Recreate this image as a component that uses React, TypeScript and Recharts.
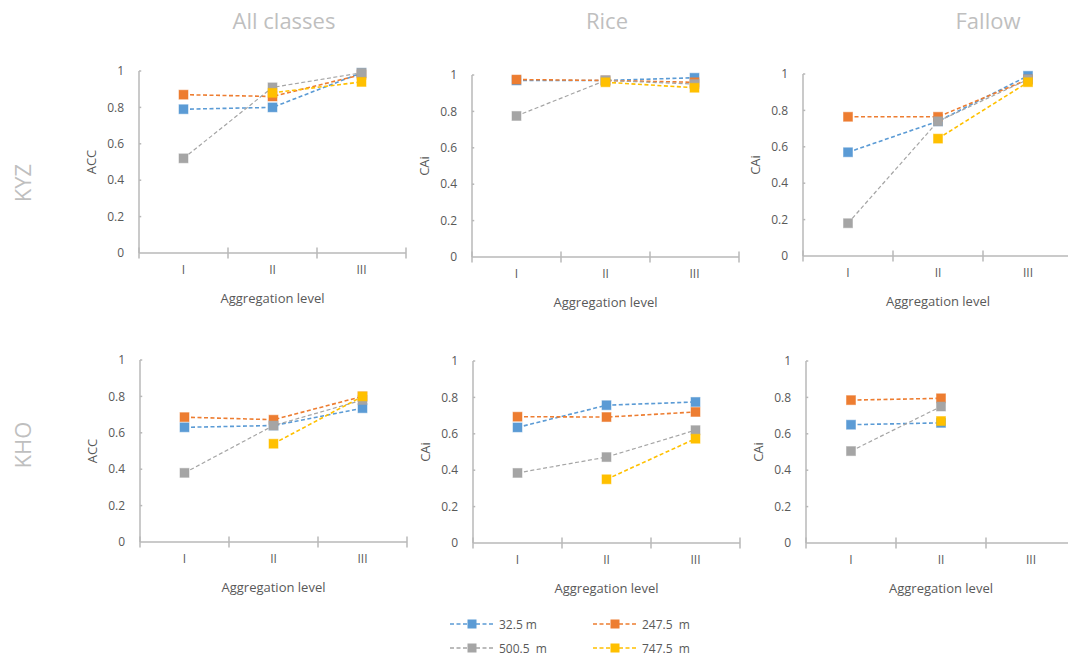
import React from "react";
import { LineChart, Line, XAxis, YAxis, ReferenceLine } from "recharts";

const levels = ["I", "II", "III"];
const seriesNames = ["32.5 m", "247.5  m", "500.5  m", "747.5  m"];
const seriesColors = ["#5B9BD5", "#ED7D31", "#A5A5A5", "#FFC000"];
const yTicks = [0, 0.2, 0.4, 0.6, 0.8, 1];

// rows: 32.5 m, 247.5 m, 500.5 m, 747.5 m ; columns: level I, II, III
const kyzAll = [
  [0.79, 0.8, 0.99],
  [0.87, 0.86, 0.98],
  [0.52, 0.91, 0.99],
  [null, 0.88, 0.94],
];
const kyzRice = [
  [0.97, 0.97, 0.985],
  [0.975, 0.97, 0.96],
  [0.775, 0.97, 0.95],
  [null, 0.96, 0.93],
];
const kyzFallow = [
  [0.57, 0.74, 0.99],
  [0.765, 0.765, 0.97],
  [0.18, 0.74, 0.97],
  [null, 0.645, 0.955],
];
const khoAll = [
  [0.63, 0.64, 0.735],
  [0.686, 0.672, 0.8],
  [0.38, 0.64, 0.78],
  [null, 0.54, 0.8],
];
const khoRice = [
  [0.635, 0.757, 0.775],
  [0.694, 0.692, 0.72],
  [0.385, 0.472, 0.62],
  [null, 0.35, 0.573],
];
const khoFallow = [
  [0.65, 0.66, null],
  [0.785, 0.795, null],
  [0.505, 0.75, null],
  [null, 0.67, null],
];

const font = "'Open Sans', sans-serif";
const axisColor = "#b8b8b8";
const textColor = "#595959";

function toRows(values: (number | null)[][]) {
  return levels.map((_, i) => {
    const row: any = { x: i + 0.5 };
    values.forEach((s, k) => {
      row["s" + k] = s[i];
    });
    return row;
  });
}

const squareDot = (color: string) => (props: any) => {
  const { cx, cy, index } = props;
  if (cx == null || cy == null || props.value == null) return <g key={"d" + index} />;
  return <rect key={"d" + index} x={cx - 4.5} y={cy - 4.5} width={9} height={9} fill={color} stroke={color} strokeOpacity={0.5} />;
};

interface PanelProps {
  axisX: number;
  plotTop: number;
  plotW: number;
  values: (number | null)[][];
  yLabel: string;
}

function Panel({ axisX, plotTop, plotW, values, yLabel }: PanelProps) {
  const data = toRows(values);
  const left = axisX - 65;
  return (
    <div style={{ position: "absolute", left, top: plotTop - 10 }}>
      <LineChart width={65 + plotW + 5} height={10 + 182 + 50 + 8} data={data} margin={{ top: 10, right: 5, left: 0, bottom: 8 }}>
        <XAxis
          type="number"
          dataKey="x"
          domain={[0, 3]}
          ticks={[0.5, 1.5, 2.5]}
          tickFormatter={(v) => levels[Math.floor(v)]}
          tick={{ fontSize: 12, fill: textColor, fontFamily: font }}
          tickLine={false}
          tickSize={6}
          tickMargin={6}
          axisLine={{ stroke: axisColor, strokeWidth: 1.5 }}
          height={50}
          label={{ value: "Aggregation level", position: "insideBottom", offset: 0, style: { fontSize: 13, fill: textColor, fontFamily: font } }}
        />
        <YAxis
          type="number"
          domain={[0, 1]}
          ticks={yTicks}
          tick={{ fontSize: 12, fill: textColor, fontFamily: font }}
          tickLine={false}
          tickSize={0}
          tickMargin={15}
          axisLine={{ stroke: axisColor, strokeWidth: 1.5 }}
          width={65}
          label={{ value: yLabel, angle: -90, position: "insideLeft", offset: 17, style: { fontSize: 13, fill: textColor, fontFamily: font, textAnchor: "middle" } }}
        />
        {[0, 1, 2, 3].map((b) => (
          <ReferenceLine key={"b" + b} segment={[{ x: b, y: -0.03 }, { x: b, y: 0.03 }]} stroke={axisColor} strokeWidth={1.5} ifOverflow="visible" />
        ))}
        {yTicks.slice(1).map((t) => (
          <ReferenceLine key={"t" + t} segment={[{ x: 0, y: t }, { x: 0.025, y: t }]} stroke={axisColor} strokeWidth={1.5} ifOverflow="visible" />
        ))}
        {seriesNames.map((name, k) => (
          <Line
            key={name}
            dataKey={"s" + k}
            name={name}
            type="linear"
            stroke={seriesColors[k]}
            strokeWidth={k === 2 ? 1.2 : 1.6}
            strokeDasharray="4 2.5"
            dot={squareDot(seriesColors[k])}
            activeDot={false}
            connectNulls={false}
            isAnimationActive={false}
          />
        ))}
      </LineChart>
    </div>
  );
}

function LegendItem({ x, y, k }: { x: number; y: number; k: number }) {
  const c = seriesColors[k];
  return (
    <div style={{ position: "absolute", left: x, top: y - 9, height: 18, display: "flex", alignItems: "center" }}>
      <svg width={46} height={18}>
        <line x1={1} x2={45} y1={9} y2={9} stroke={c} strokeWidth={1.5} strokeDasharray="4 2.5" />
        <rect x={18.5} y={4.5} width={9} height={9} fill={c} />
      </svg>
      <span style={{ marginLeft: 4, fontSize: 12, color: textColor, fontFamily: font, whiteSpace: "pre" }}>{seriesNames[k]}</span>
    </div>
  );
}

const titleStyle: React.CSSProperties = {
  position: "absolute",
  fontSize: 22,
  color: "#bfbfbf",
  fontFamily: font,
  whiteSpace: "nowrap",
  transform: "translate(-50%, -50%)",
};

export default function App() {
  return (
    <div style={{ position: "absolute", left: 0, top: 0, width: 1068, height: 656, overflow: "hidden", background: "#fff" }}>
      <div style={{ ...titleStyle, left: 284, top: 20 }}>All classes</div>
      <div style={{ ...titleStyle, left: 607, top: 20 }}>Rice</div>
      <div style={{ ...titleStyle, left: 988, top: 20 }}>Fallow</div>
      <div style={{ ...titleStyle, left: 22, top: 183, transform: "translate(-50%, -50%) rotate(-90deg)" }}>KYZ</div>
      <div style={{ ...titleStyle, left: 22, top: 445, transform: "translate(-50%, -50%) rotate(-90deg)" }}>KHO</div>

      <Panel axisX={139} plotTop={71} plotW={267} values={kyzAll} yLabel="ACC" />
      <Panel axisX={472} plotTop={75} plotW={267} values={kyzRice} yLabel="CAi" />
      <Panel axisX={803} plotTop={74} plotW={270} values={kyzFallow} yLabel="CAi" />
      <Panel axisX={140} plotTop={360} plotW={267} values={khoAll} yLabel="ACC" />
      <Panel axisX={473} plotTop={361} plotW={267} values={khoRice} yLabel="CAi" />
      <Panel axisX={806} plotTop={361} plotW={270} values={khoFallow} yLabel="CAi" />

      <LegendItem x={449} y={624} k={0} />
      <LegendItem x={592} y={624} k={1} />
      <LegendItem x={449} y={648} k={2} />
      <LegendItem x={592} y={648} k={3} />
    </div>
  );
}
